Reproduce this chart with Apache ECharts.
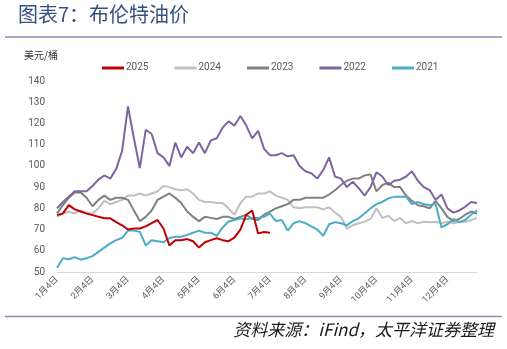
<!DOCTYPE html>
<html>
<head>
<meta charset="utf-8">
<script src="https://cdn.jsdelivr.net/npm/echarts@6/dist/echarts.min.js"></script>
<style>
html,body{margin:0;padding:0;background:#fff;}
#chart{width:507px;height:349px;}
</style>
</head>
<body>
<div id="chart"></div>
<script>
const categories = [
"1月4日","1月9日","1月14日","1月19日","1月24日","1月29日",
"2月4日","2月9日","2月14日","2月19日","2月24日","2月28日",
"3月4日","3月9日","3月14日","3月19日","3月24日","3月29日",
"4月4日","4月9日","4月14日","4月19日","4月24日","4月29日",
"5月4日","5月9日","5月14日","5月19日","5月24日","5月29日",
"6月4日","6月9日","6月14日","6月19日","6月24日","6月29日",
"7月4日","7月9日","7月14日","7月19日","7月24日","7月29日",
"8月4日","8月9日","8月14日","8月19日","8月24日","8月29日",
"9月4日","9月9日","9月14日","9月19日","9月24日","9月29日",
"10月4日","10月9日","10月14日","10月19日","10月24日","10月29日",
"11月4日","11月9日","11月14日","11月19日","11月24日","11月29日",
"12月4日","12月9日","12月14日","12月19日","12月24日","12月29日"
];

const seriesNames = ["2025", "2024", "2023", "2022", "2021"];
const seriesColors = ["#c00000", "#c0c0c0", "#808080", "#8064a2", "#4bacc6"];

const s2025 = [76.8, 77.6, 81.5, 79.5, 78.5, 77.5, 76.8, 76, 75.3, 75.3,
  73.5, 72, 70, 70.5, 70.5, 71.5, 73, 74.5, 70.5, 62.5,
  65, 65, 65.5, 64.5, 61.5, 64, 65, 65.9, 65, 64.5,
  66.2, 70, 77, 79, 68.2, 68.8, 68.5];

const s2024 = [76, 77.6, 78.4, 77.6, 79, 78, 77.5, 80, 83.5, 82,
  83, 84, 86, 86, 87, 86, 87, 88, 90.5, 90,
  89, 88.5, 89, 87, 84, 83, 83, 82.5, 82.5, 80,
  77, 82.5, 85.5, 85.5, 87, 87, 88, 86, 85, 84,
  80.5, 80, 80.5, 80.5, 80.5, 79.5, 80.5, 78, 76, 70.5,
  72, 73, 73.7, 75, 80, 75.5, 76.5, 74, 75.5, 73,
  74, 73, 73.7, 73.5, 73.7, 73, 73.7, 73, 73.5, 73.7,
  74.5, 75.5];

const s2023 = [77.6, 81.5, 85, 87.5, 87.5, 85, 81, 84, 86, 84,
  85, 85, 84, 79, 74, 76, 79, 84, 85.5, 87,
  85, 82.5, 78.5, 76, 74, 76, 75.5, 75, 76, 76,
  75, 76, 77, 75, 74.5, 77, 78.5, 80, 81, 82,
  84, 84, 85, 85, 85, 85, 86.5, 88.5, 91, 93,
  94, 94, 95.5, 96, 88, 91, 92, 90, 90, 86,
  83.5, 81.5, 81, 80, 83.5, 80, 76, 74, 75, 77,
  78.5, 77.5];

const s2022 = [80, 83, 85.5, 88, 88, 88, 90.5, 93.5, 95.5, 94,
  98.5, 107, 128, 113, 99, 117, 115, 106, 104, 100,
  111, 104, 109, 106, 111, 106, 112, 113, 118, 121,
  119, 123.5, 119, 113, 116.5, 108, 105, 105, 106, 104.5,
  105, 100, 97.5, 96.5, 94, 98, 104, 95, 94, 90,
  92.5, 89.5, 86, 90, 97, 95, 91, 93, 93.5, 95,
  97.5, 93, 90, 88.6, 84, 86.5, 80, 78, 79, 80.7,
  83, 82.5];

const s2021 = [52, 56.5, 56, 57, 55.8, 56.5, 57.5, 59.5, 61.5, 63.5,
  65, 66, 69.5, 69.5, 69, 62.5, 65, 64.5, 64, 66,
  66.6, 66.6, 67.5, 68.5, 69.5, 68.5, 68.5, 67, 71, 73.8,
  74.5, 75.3, 74.8, 75.5, 75.5, 76, 77.5, 74, 74.5, 69.5,
  73, 74, 73, 71.5, 70, 67, 72.5, 73.5, 73, 72,
  74, 75.3, 77.6, 80, 82, 83, 84.7, 85.4, 85.5, 85.5,
  82, 83, 82, 81.5, 82, 71, 72.5, 75, 73.5, 74.5,
  77, 79];

const seriesData = [s2025, s2024, s2023, s2022, s2021];

const yMin = 50, yMax = 140, yStep = 10;

const chart = echarts.init(document.getElementById('chart'), null, {renderer: 'canvas'});
const fontFam = 'Roboto, "Noto Sans CJK SC", sans-serif';

chart.setOption({
  animation: false,
  backgroundColor: '#ffffff',
  grid: {left: 57, right: 30, top: 81, bottom: 77, containLabel: false},
  legend: {
    data: seriesNames,
    left: 97, top: 58,
    icon: 'rect', itemWidth: 22, itemHeight: 3, itemGap: 26,
    textStyle: {color: '#595959', fontSize: 10, fontFamily: fontFam, padding: [0,0,0,-3]}
  },
  xAxis: {
    type: 'category',
    data: categories,
    boundaryGap: false,
    axisLine: {show: true, lineStyle: {color: '#d9d9d9', width: 1}},
    axisTick: {show: false},
    axisLabel: {interval: 5, rotate: 45, fontSize: 9, color: '#595959', margin: 6, fontFamily: fontFam},
    splitLine: {show: false}
  },
  yAxis: {
    type: 'value',
    min: yMin, max: yMax, interval: yStep,
    axisLine: {show: false},
    axisTick: {show: false},
    axisLabel: {fontSize: 10, color: '#595959', margin: 12, fontFamily: fontFam},
    splitLine: {show: false}
  },
  series: seriesNames.map((n, k) => ({
    name: n,
    type: 'line',
    data: seriesData[k],
    symbol: 'none',
    lineStyle: {width: 2, color: seriesColors[k]},
    itemStyle: {color: seriesColors[k]},
    z: k === 0 ? 10 : 2
  })),
  graphic: [
    {type: 'text', left: 18, top: 4,
     style: {text: '图表7：布伦特油价', fill: '#34507f', font: '20px "Noto Sans CJK SC", sans-serif'}},
    {type: 'line', shape: {x1: 5, y1: 37, x2: 502, y2: 37},
     style: {stroke: '#8a8db3', lineWidth: 1.5}},
    {type: 'text', left: 24, top: 50,
     style: {text: '美元/桶', fill: '#333333', font: '10px "Noto Sans CJK SC", sans-serif'}},
    {type: 'line', shape: {x1: 5, y1: 316.5, x2: 502, y2: 316.5},
     style: {stroke: '#8a8db3', lineWidth: 1.5}},
    {type: 'text', right: 13, top: 321,
     style: {text: '资料来源：iFind，太平洋证券整理', fill: '#1a1a1a', font: 'italic 17px "Noto Sans CJK SC", sans-serif'}}
  ]
});
</script>
</body>
</html>
